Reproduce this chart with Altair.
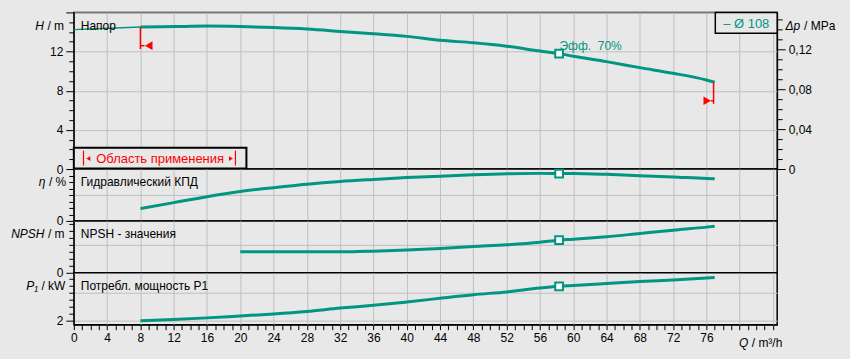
import altair as alt
import pandas as pd

# ---------------- data ----------------
Q_THIN = [0, 5, 8]
H_THIN = [14.24, 14.4, 14.5]
Q_MAIN = [8, 12, 16, 20, 24, 28, 32, 36, 40, 44, 48, 52, 56, 58.3, 60, 64, 68, 72, 76, 77]
H_MAIN = [14.5, 14.55, 14.6, 14.55, 14.45, 14.3, 14.06, 13.81, 13.55, 13.15, 12.9, 12.55,
          12.05, 11.79, 11.52, 10.97, 10.36, 9.78, 9.1, 8.88]
ETA = [18.9, 28.2, 37.4, 45.3, 51.3, 56.7, 60.9, 64.0, 66.8, 69.0, 71.2, 72.8, 73.3,
       73.0, 73.0, 71.8, 69.8, 67.7, 65.4, 65.0]
Q_NPSH = [20, 24, 28, 32, 34, 36, 40, 44, 48, 52, 56, 58.3, 60, 64, 68, 72, 76, 77]
NPSH = [1.52, 1.52, 1.52, 1.52, 1.53, 1.56, 1.64, 1.76, 1.9, 2.02, 2.2, 2.36, 2.42, 2.6,
        2.84, 3.08, 3.3, 3.37]
P1 = [2.0, 2.04, 2.1, 2.17, 2.24, 2.33, 2.45, 2.55, 2.67, 2.8, 2.93, 3.03, 3.17, 3.23,
      3.26, 3.33, 3.4, 3.46, 3.53, 3.55]
Q_BEP = 58.3
BEP_LABEL = "Эфф.\u00a0\u00a070%"
LEGEND_LABEL = "– Ø 108"
LIMIT_Q = [8.0, 76.86]
LIMIT_TOP = [14.5, 8.88]
LIMIT_BOTTOM = [12.26, 6.66]
TRI_Q = [9.0, 76.1]
TRI_H = [12.6, 6.98]
STEM_Q1 = [8.0, 76.55]
STEM_Q2 = [8.5, 76.86]
MPA_PER_M = 0.00981

# ---------------- style ----------------
BG = "#e8e8e8"
TEAL = "#009682"
GRID = "#c0c0c0"
RED = "#ff0000"
FONT = "Liberation Sans"
W = 705
X_DOM = [0, 84.5]

H_DOM = [0, 16]
DP_DOM = [0, 16 * MPA_PER_M]
ETA_DOM = [0, 80]
NPSH_DOM = [0, 3.75]
P1_DOM = [2 - 4 / 28, 2 + 48 / 28]


def cond(test, a, b):
    return {"condition": {"test": test, "value": a}, "value": b}


def xenc(bottom=False):
    if bottom:
        ax = alt.Axis(values=list(range(0, 85)), tickSize=5,
                      labelExpr="datum.value % 4 == 0 && datum.value <= 76 ? datum.label : ''",
                      gridOpacity=cond("datum.value % 4 == 0", 1, 0),
                      labelFlush=False, labelOverlap=False, labelPadding=3,
                      grid=True, title=None)
    else:
        ax = alt.Axis(values=list(range(0, 85, 4)), labels=False, ticks=False,
                      domain=False, grid=True, title=None)
    return alt.X("Q:Q", scale=alt.Scale(domain=X_DOM, nice=False, zero=False), axis=ax)


def yenc(domain, values, major_test, label_expr, grid_test, orient="left", grid=True,
         field="v"):
    kw = dict(values=values, orient=orient,
              tickSize=cond(major_test, 8, 5),
              labelExpr=label_expr, labelOverlap=False, labelFlush=False,
              labelPadding=3, grid=grid, title=None)
    if grid:
        kw["gridOpacity"] = cond(grid_test, 1, 0)
    return alt.Y(f"{field}:Q", scale=alt.Scale(domain=domain, nice=False, zero=False),
                 axis=alt.Axis(**kw))


ONE = pd.DataFrame({"a": [0]})


def ptext(x, y, s, align="left", color="black", size=12, style="normal"):
    return alt.Chart(ONE).mark_text(align=align, baseline="middle", font=FONT,
                                    fontSize=size, color=color, fontStyle=style).encode(
        x=alt.value(x), y=alt.value(y), text=alt.value(s))


def axis_title(sym, unit, xr, y):
    # italic symbol right-aligned at xr, unit left-aligned just after
    return [ptext(xr, y, sym, align="right", style="italic"),
            ptext(xr + 3.5, y, unit, align="left")]


def curve_layers(q, v, yE, xE):
    df = pd.DataFrame({"Q": q, "v": v})
    line = alt.Chart(df).mark_line(color=TEAL, strokeWidth=3, interpolate="monotone").encode(
        x=xE, y=yE)
    i = q.index(Q_BEP)
    bep = alt.Chart(pd.DataFrame({"Q": [Q_BEP], "v": [v[i]]})).mark_point(
        shape="square", filled=True, fill="white", stroke=TEAL, strokeWidth=2,
        size=60, opacity=1).encode(x=xE, y=yE)
    return [line, bep]


# ---------------- top panel: head ----------------
yH = lambda: yenc(H_DOM, list(range(0, 17)), "datum.value % 4 == 0",
                  "datum.value % 4 == 0 && datum.value < 16 ? datum.label : ''",
                  "datum.value % 4 == 0")

# invisible frame pinning the page size (850 x 359) around the plot area
frame = alt.Chart(ONE).mark_rect(fillOpacity=0, strokeOpacity=0).encode(
    x=alt.value(-73), x2=alt.value(777), y=alt.value(-11), y2=alt.value(348))

thin = alt.Chart(pd.DataFrame({"Q": Q_THIN, "v": H_THIN})).mark_line(
    color=TEAL, strokeWidth=1.5).encode(x=xenc(), y=yH())
head_layers = [frame, thin] + curve_layers(Q_MAIN, H_MAIN, yH(), xenc())

lim = pd.DataFrame({"Q": LIMIT_Q, "v": LIMIT_TOP, "v2": LIMIT_BOTTOM})
head_layers.append(alt.Chart(lim).mark_rule(color=RED, strokeWidth=1.5).encode(
    x=xenc(), y=yH(), y2="v2:Q"))
stems = pd.DataFrame({"Q": STEM_Q1, "Q2": STEM_Q2, "v": TRI_H})
head_layers.append(alt.Chart(stems).mark_rule(color=RED, strokeWidth=1.5).encode(
    x=xenc(), x2="Q2:Q", y=yH()))
head_layers.append(alt.Chart(pd.DataFrame({"Q": [TRI_Q[0]], "v": [TRI_H[0]]})).mark_point(
    shape="triangle-left", filled=True, color=RED, size=75, opacity=1).encode(x=xenc(), y=yH()))
head_layers.append(alt.Chart(pd.DataFrame({"Q": [TRI_Q[1]], "v": [TRI_H[1]]})).mark_point(
    shape="triangle-right", filled=True, color=RED, size=75, opacity=1).encode(x=xenc(), y=yH()))
head_layers.append(alt.Chart(pd.DataFrame({"Q": [Q_BEP + 0.05], "v": [12.57], "t": [BEP_LABEL]}))
                   .mark_text(align="left", baseline="middle", font=FONT, fontSize=12, color=TEAL)
                   .encode(x=xenc(), y=yH(), text="t:N"))

# annotations (panel-relative pixels)
head_layers.append(ptext(7, 13.5, "Напор"))
# legend box
head_layers.append(alt.Chart(ONE).mark_rect(fill=BG, stroke="black", strokeWidth=1.5).encode(
    x=alt.value(643), x2=alt.value(705), y=alt.value(0), y2=alt.value(21)))
head_layers.append(ptext(674, 11.5, LEGEND_LABEL, align="center", color=TEAL, size=13))
# application range box
head_layers.append(alt.Chart(ONE).mark_rect(fill=BG, stroke="black", strokeWidth=2).encode(
    x=alt.value(0), x2=alt.value(173), y=alt.value(135.7), y2=alt.value(156.5)))
head_layers.append(ptext(86.5, 146.5, "Область применения", align="center", color=RED, size=13))
for xb in (9.7, 162):
    head_layers.append(alt.Chart(ONE).mark_rule(color=RED, strokeWidth=1.2).encode(
        x=alt.value(xb), y=alt.value(138.5), y2=alt.value(153.5)))
head_layers.append(alt.Chart(ONE).mark_point(shape="triangle-left", filled=True, color=RED,
                                             size=22, opacity=1).encode(
    x=alt.value(14.5), y=alt.value(146.5)))
head_layers.append(alt.Chart(ONE).mark_point(shape="triangle-right", filled=True, color=RED,
                                             size=22, opacity=1).encode(
    x=alt.value(157.5), y=alt.value(146.5)))
# axis titles
head_layers += axis_title("H", "/ m", -30, 13.5)
head_layers += [ptext(728, 13.5, "Δp", align="right", style="italic"),
                ptext(732, 13.5, "/ MPa")]

head_inner = alt.layer(*head_layers)
dp_df = pd.DataFrame({"Q": Q_MAIN, "v": [h * MPA_PER_M for h in H_MAIN]})
dp_vals = [round(i * 0.01, 2) for i in range(16)]
dp_major = "abs(datum.value * 25 - round(datum.value * 25)) < 0.001"
dp_layer = alt.Chart(dp_df).mark_line(opacity=0).encode(
    x=xenc(),
    y=yenc(DP_DOM, dp_vals, dp_major,
           f"{dp_major} ? (datum.value == 0 ? '0' : replace(format(datum.value, '.2f'), '.', ',')) : ''",
           "false", orient="right", grid=False))
head = alt.layer(head_inner, dp_layer).resolve_scale(y="independent").properties(
    width=W, height=157)

# ---------------- efficiency panel ----------------
yE = lambda: yenc(ETA_DOM, list(range(0, 81, 10)), "datum.value == 0",
                  "datum.value == 0 ? '0' : ''", "datum.value == 40")
eta_layers = curve_layers(Q_MAIN, ETA, yE(), xenc())
eta_layers.append(ptext(7, 13.5, "Гидравлический КПД"))
eta_layers += axis_title("η", "/ %", -28.5, 13.5)
eta = alt.layer(*eta_layers).properties(width=W, height=52)

# ---------------- NPSH panel ----------------
npsh_vals = [i * 0.5 for i in range(8)]
yN = lambda: yenc(NPSH_DOM, npsh_vals, "datum.value == 0",
                  "datum.value == 0 ? '0' : ''", "datum.value == 2")
npsh_layers = curve_layers(Q_NPSH, NPSH, yN(), xenc())
npsh_layers.append(ptext(7, 13.5, "NPSH - значения"))
npsh_layers += axis_title("NPSH", "/ m", -29.5, 13.5)
npsh = alt.layer(*npsh_layers).properties(width=W, height=52)

# ---------------- power panel ----------------
p1_vals = [2 + i * 0.25 for i in range(7)]
yP = lambda: yenc(P1_DOM, p1_vals, "datum.value == 2",
                  "datum.value == 2 ? '2' : ''", "datum.value == 2 || datum.value == 3")
p1_layers = curve_layers(Q_MAIN, P1, yP(), xenc(bottom=True))
p1_layers.append(ptext(7, 13.5, "Потребл. мощность P1"))
p1_layers += axis_title("P₁", "/ kW", -36, 13.5)
p1_layers += [ptext(676, 70, "Q", align="right", style="italic"),
              ptext(679.5, 70, "/ m³/h")]
p1 = alt.layer(*p1_layers).properties(width=W, height=52)

chart = alt.vconcat(head, eta, npsh, p1, spacing=0, bounds="flush").properties(
    background=BG,
    padding=0,
).configure_view(stroke="black", strokeWidth=1.5, fill=BG).configure_axis(
    labelFont=FONT, labelFontSize=12, labelColor="black", tickColor="black",
    domainColor="black", gridColor=GRID, gridWidth=1, tickWidth=1, domainWidth=1)

chart.save("out.html", embed_options={"renderer": "svg", "actions": False})
